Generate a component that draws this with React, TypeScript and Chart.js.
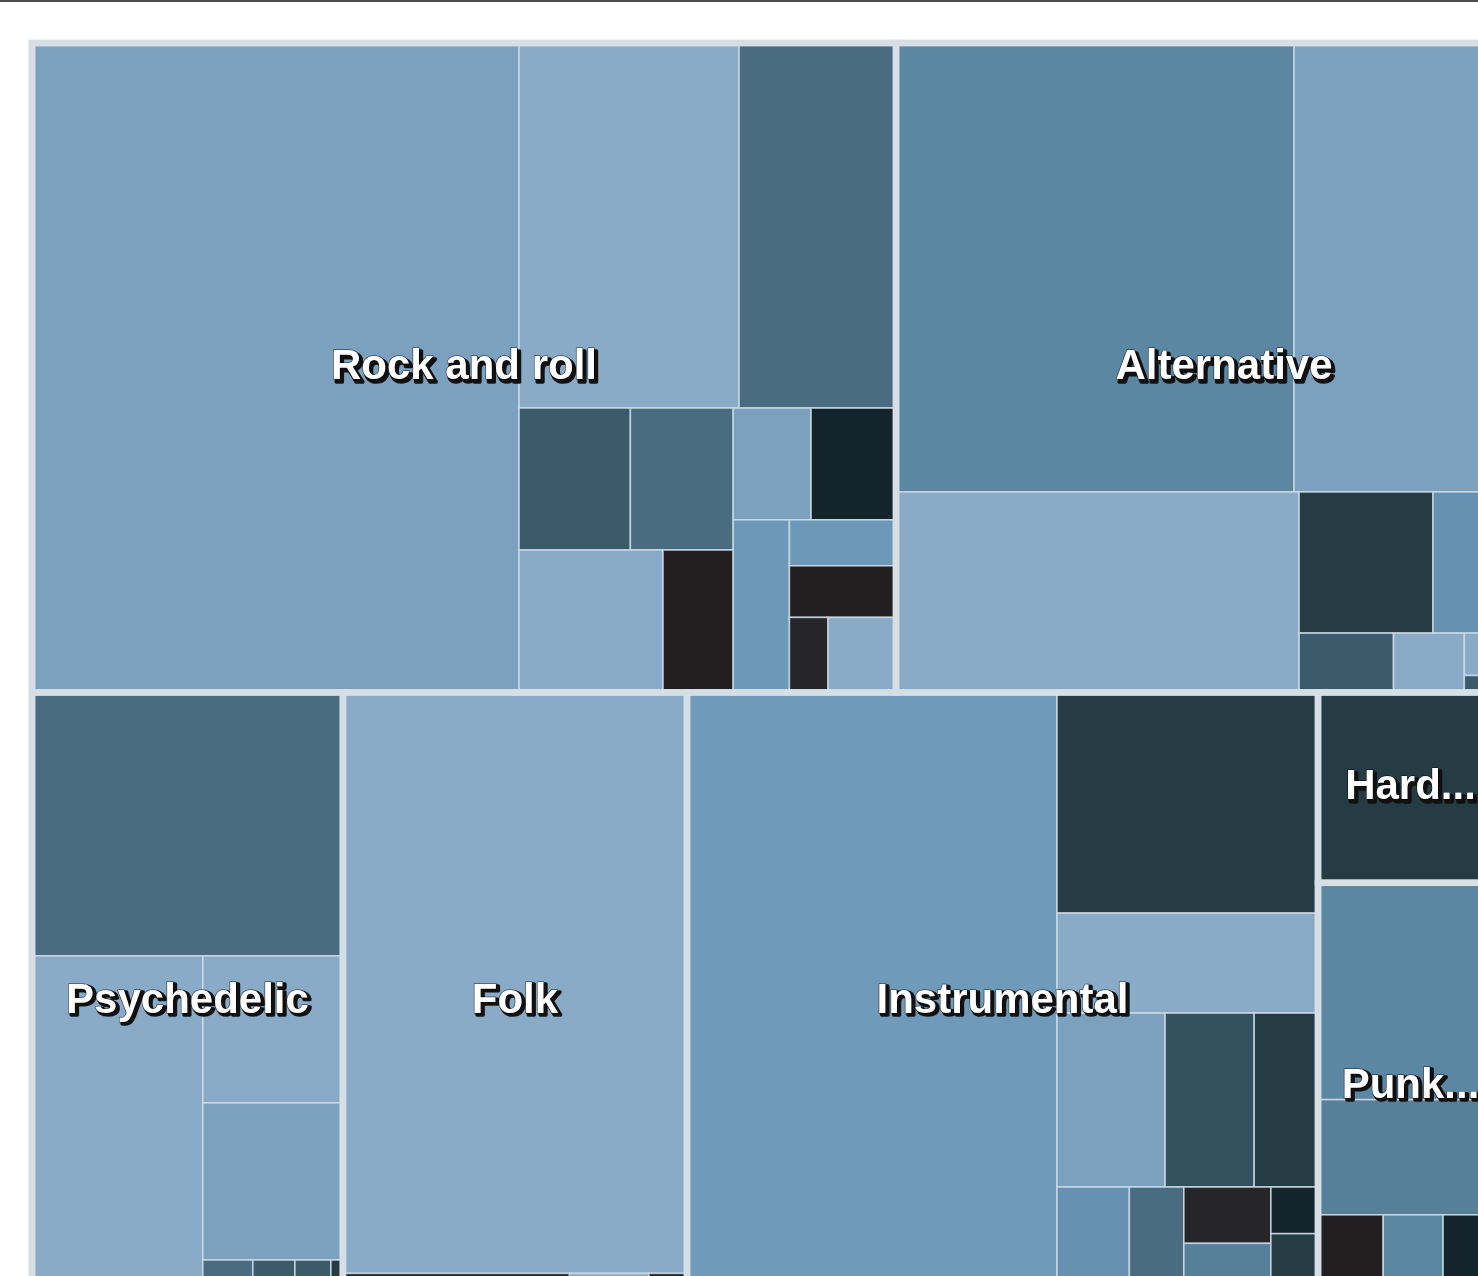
import React, { useEffect, useRef } from 'react';
import { Chart, registerables } from 'chart.js';

Chart.register(...registerables);

type Node = number | [string, ...Node[]];

// ---- Genres (level 1) ----
const genres = ['Rock and roll', 'Alternative', 'Psychedelic', 'Folk', 'Instrumental', 'Hard rock', 'Punk rock', 'Electronic', 'Blues', 'Jazz'];

// ---- Leaf values per genre ----
const rockValues = [3163, 803, 573, 158, 146, 205, 100, 87, 95, 97, 49, 55, 29, 51];
const alternativeValues = [1787, 1158, 808, 189, 168, 56, 42, 15, 6, 31];
const psychedelicValues = [819, 605, 206, 220, 25, 21, 18, 6];
const folkValues = [1999, 83, 29, 14];
const instrumentalValues = [2285, 576, 261, 188, 155, 111, 89, 67, 49, 58, 22, 36];
const hardRockValues = [352];
const punkValues = [401, 213, 49, 45, 45];
const electronicValues = [22, 15];
const bluesValues = [90, 57];
const jazzValues = [100, 56];

// ---- Colour-axis values per leaf (0 = light, 1 = dark) ----
const rockShades = [0.1, 0.0, 0.4, 0.5, 0.4, 0.0, 0.9, 0.1, 0.7, 0.2, 0.2, 0.9, 0.8, 0.0];
const alternativeShades = [0.3, 0.1, 0.0, 0.6, 0.24, 0.5, 0.0, 0.0, 0.5, 0.3];
const psychedelicShades = [0.4, 0.0, 0.0, 0.1, 0.4, 0.5, 0.5, 0.6];
const folkShades = [0.0, 0.8, 0.0, 0.8];
const instrumentalShades = [0.18, 0.6, 0.0, 0.1, 0.53, 0.6, 0.24, 0.4, 0.8, 0.33, 0.7, 0.6];
const hardRockShades = [0.6];
const punkShades = [0.3, 0.33, 0.9, 0.3, 0.7];
const electronicShades = [0.2, 0.6];
const bluesShades = [0.1, 0.5];
const jazzShades = [0.3, 0.7];

// ---- Nesting of leaves inside each genre (h = side by side, v = stacked) ----
const rockNesting: Node = ['h', 0, ['v', ['h', 1, 2], ['h', ['v', ['h', 3, 4], ['h', 5, 6]], ['v', ['h', 7, 8], ['h', 9, ['v', 10, 11, ['h', 12, 13]]]]]]];
const alternativeNesting: Node = ['v', ['h', 0, 1], ['h', 2, ['v', ['h', 3, 4], ['h', 5, 6, ['v', 7, 8], 9]]]];
const psychedelicNesting: Node = ['v', 0, ['h', 1, ['v', 2, 3, ['h', 4, 5, 6, 7]]]];
const folkNesting: Node = ['v', 0, ['h', 1, 2, 3]];
const instrumentalNesting: Node = ['h', 0, ['v', 1, 2, ['h', 3, 4, 5], ['h', 6, 7, ['v', 8, 9], ['v', 10, 11]]]];
const hardRockNesting: Node = ['h', 0];
const punkNesting: Node = ['v', 0, 1, ['h', 2, 3, 4]];
const electronicNesting: Node = ['h', 0, 1];
const bluesNesting: Node = ['v', 0, 1];
const jazzNesting: Node = ['v', 0, 1];

// ---- Nesting of genres ----
const genreNesting: Node = ['v', ['h', 0, 1], ['h', 2, 3, 4, ['v', 5, 6, 7], ['v', 8, 9]]];

// ---- Colour axis ----
const shadeStops = [0, 0.1, 0.2, 0.3, 0.4, 0.5, 0.6, 0.7, 0.8, 0.9];
const shadeColors = ['#8aabc8', '#7ba1bf', '#6d98b8', '#5b87a3', '#4a6c80', '#3b5a6a', '#253c45', '#13242b', '#262628', '#221f20'];

const genreValues = [rockValues, alternativeValues, psychedelicValues, folkValues, instrumentalValues, hardRockValues, punkValues, electronicValues, bluesValues, jazzValues];
const genreShades = [rockShades, alternativeShades, psychedelicShades, folkShades, instrumentalShades, hardRockShades, punkShades, electronicShades, bluesShades, jazzShades];
const genreNestings = [rockNesting, alternativeNesting, psychedelicNesting, folkNesting, instrumentalNesting, hardRockNesting, punkNesting, electronicNesting, bluesNesting, jazzNesting];

interface Rect { x0: number; x1: number; y0: number; y1: number; }

function hexToRgb(h: string) {
  const n = parseInt(h.slice(1), 16);
  return [(n >> 16) & 255, (n >> 8) & 255, n & 255];
}

function shadeToColor(v: number) {
  if (v <= shadeStops[0]) return shadeColors[0];
  for (let i = 1; i < shadeStops.length; i++) {
    if (v <= shadeStops[i]) {
      const t = (v - shadeStops[i - 1]) / (shadeStops[i] - shadeStops[i - 1]);
      const a = hexToRgb(shadeColors[i - 1]);
      const b = hexToRgb(shadeColors[i]);
      const c = a.map((ai, k) => Math.round(ai + (b[k] - ai) * t));
      return `rgb(${c[0]},${c[1]},${c[2]})`;
    }
  }
  return shadeColors[shadeColors.length - 1];
}

function nodeSum(node: Node, vals: number[]): number {
  if (typeof node === 'number') return vals[node];
  let s = 0;
  for (let i = 1; i < node.length; i++) s += nodeSum(node[i] as Node, vals);
  return s;
}

function layoutNode(node: Node, rect: Rect, vals: number[], out: { index: number; rect: Rect }[]) {
  if (typeof node === 'number') {
    out.push({ index: node, rect });
    return;
  }
  const dir = node[0];
  const kids = node.slice(1) as Node[];
  const total = kids.reduce((s, k) => s + nodeSum(k, vals), 0);
  let pos = dir === 'h' ? rect.x0 : rect.y0;
  const span = dir === 'h' ? rect.x1 - rect.x0 : rect.y1 - rect.y0;
  kids.forEach((k) => {
    const size = (nodeSum(k, vals) / total) * span;
    const r: Rect = dir === 'h'
      ? { x0: pos, x1: pos + size, y0: rect.y0, y1: rect.y1 }
      : { x0: rect.x0, x1: rect.x1, y0: pos, y1: pos + size };
    layoutNode(k, r, vals, out);
    pos += size;
  });
}

const LABEL_FONT = 'bold 42px "Liberation Sans", Arial, Helvetica, sans-serif';

function fitLabel(ctx: CanvasRenderingContext2D, text: string, maxW: number) {
  if (ctx.measureText(text).width <= maxW) return text;
  for (let n = text.length - 1; n > 0; n--) {
    const t = text.slice(0, n).replace(/\s+$/, '') + '...';
    if (ctx.measureText(t).width <= maxW) return t;
  }
  return '';
}

const treemapPlugin = {
  id: 'treemapDraw',
  afterDatasetsDraw(chart: any) {
    const ctx: CanvasRenderingContext2D = chart.ctx;
    const xs = chart.scales.x;
    const ys = chart.scales.y;
    const px = (r: Rect) => {
      const a = xs.getPixelForValue(r.x0);
      const b = xs.getPixelForValue(r.x1);
      const c = ys.getPixelForValue(r.y0);
      const d = ys.getPixelForValue(r.y1);
      return { x: Math.min(a, b), y: Math.min(c, d), w: Math.abs(b - a), h: Math.abs(d - c) };
    };
    const genreTotals = genreValues.map((v) => v.reduce((s, x) => s + x, 0));
    const genreRects: { index: number; rect: Rect }[] = [];
    layoutNode(genreNesting, { x0: 0, x1: 1, y0: 0, y1: 1 }, genreTotals, genreRects);

    ctx.save();
    // leaves
    genreRects.forEach(({ index, rect }) => {
      const leaves: { index: number; rect: Rect }[] = [];
      layoutNode(genreNestings[index], rect, genreValues[index], leaves);
      leaves.forEach((lf) => {
        const p = px(lf.rect);
        ctx.fillStyle = shadeToColor(genreShades[index][lf.index]);
        ctx.fillRect(p.x, p.y, p.w, p.h);
        ctx.strokeStyle = 'rgba(205,218,230,0.85)';
        ctx.lineWidth = 1.6;
        ctx.strokeRect(p.x, p.y, p.w, p.h);
      });
    });
    // genre borders
    ctx.strokeStyle = '#d6dee6';
    ctx.lineWidth = 6.5;
    genreRects.forEach(({ rect }) => {
      const p = px(rect);
      ctx.strokeRect(p.x, p.y, p.w, p.h);
    });
    const all = px({ x0: 0, x1: 1, y0: 0, y1: 1 });
    ctx.strokeRect(all.x, all.y, all.w, all.h);

    // labels
    ctx.font = LABEL_FONT;
    ctx.textAlign = 'center';
    ctx.textBaseline = 'middle';
    ctx.lineJoin = 'round';
    genreRects.forEach(({ index, rect }) => {
      const p = px(rect);
      if (p.h < 50 || p.w < 60) return;
      const t = fitLabel(ctx, genres[index], p.w - 40);
      if (!t) return;
      const cx = p.x + p.w / 2;
      const cy = p.y + p.h / 2;
      ctx.strokeStyle = '#111';
      ctx.fillStyle = '#111';
      ctx.lineWidth = 3.5;
      ctx.strokeText(t, cx + 2.5, cy + 2.5);
      ctx.fillText(t, cx + 2.5, cy + 2.5);
      ctx.strokeStyle = 'rgba(0,0,0,0.55)';
      ctx.lineWidth = 1.5;
      ctx.strokeText(t, cx, cy);
      ctx.fillStyle = '#ffffff';
      ctx.fillText(t, cx, cy);
    });
    ctx.restore();
  },
};

export default function App() {
  const ref = useRef<HTMLCanvasElement | null>(null);
  useEffect(() => {
    if (!ref.current) return;
    const chart = new Chart(ref.current, {
      type: 'scatter',
      data: { datasets: [] },
      options: {
        responsive: false,
        maintainAspectRatio: false,
        animation: false,
        devicePixelRatio: 1,
        layout: { padding: { left: 32, top: 43, right: 8, bottom: 8 } },
        plugins: { legend: { display: false }, tooltip: { enabled: false } },
        scales: {
          x: { type: 'linear', min: 0, max: 1, display: false },
          y: { type: 'linear', min: 0, max: 1, reverse: true, display: false },
        },
      },
      plugins: [treemapPlugin],
    } as any);
    return () => chart.destroy();
  }, []);
  return (
    <div style={{ position: 'fixed', left: 0, top: 0, width: '100vw', height: '100vh', overflow: 'hidden', background: '#ffffff' }}>
      <canvas ref={ref} width={1560} height={1318} style={{ position: 'absolute', left: 0, top: 0, display: 'block' }} />
      <div style={{ position: 'absolute', left: 0, top: 0, width: '100%', height: 2, background: '#4d4d4d' }} />
    </div>
  );
}
